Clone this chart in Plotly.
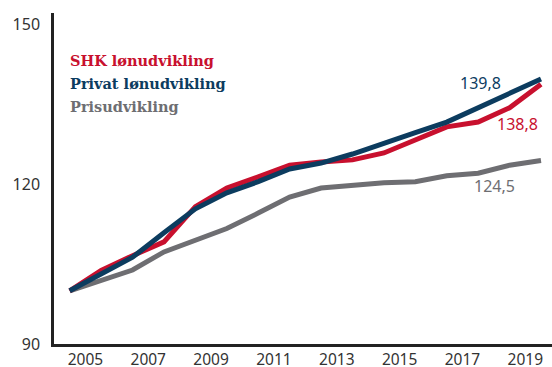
import plotly.graph_objects as go

years = list(range(2004, 2020))
shk = [100, 103.8, 106.6, 109.2, 115.8, 119.3, 121.4, 123.6, 124.2, 124.6, 125.9, 128.3, 130.8, 131.7, 134.4, 138.8]
privat = [100, 103.2, 106.3, 110.9, 115.4, 118.4, 120.5, 122.9, 124.0, 125.7, 127.8, 129.7, 131.7, 134.4, 137.0, 139.8]
pris = [100, 102.0, 103.9, 107.3, 109.4, 111.7, 114.6, 117.6, 119.3, 119.9, 120.3, 120.5, 121.6, 122.1, 123.6, 124.5]
series_names = ["SHK lønudvikling", "Privat lønudvikling", "Prisudvikling"]
tick_years = [2005, 2007, 2009, 2011, 2013, 2015, 2017, 2019]
y_ticks = [90, 120, 150]

RED = "#C8102E"
BLUE = "#0C3C5F"
GRAY = "#6E6E72"

# annual values plotted at mid-year
xmid = [y + 0.5 for y in years]

fig = go.Figure()
fig.add_trace(go.Scatter(x=xmid, y=pris, mode="lines", line=dict(color=GRAY, width=5), name=series_names[2]))
fig.add_trace(go.Scatter(x=xmid, y=shk, mode="lines", line=dict(color=RED, width=5), name=series_names[0]))
fig.add_trace(go.Scatter(x=xmid, y=privat, mode="lines", line=dict(color=BLUE, width=5), name=series_names[1]))

legend_font = "DejaVu Serif"
for i, (name, col) in enumerate(zip(series_names, [RED, BLUE, GRAY])):
    fig.add_annotation(x=2004.45, y=143.2 - i * 4.33, xref="x", yref="y", text="<b>" + name + "</b>",
                       showarrow=False, xanchor="left", yanchor="middle",
                       font=dict(family=legend_font, size=14.5, color=col))

num_font = "Noto Sans"
fig.add_annotation(x=2017.57, y=139.1, text=f"{privat[-1]:.1f}".replace(".", ","),
                   showarrow=False, xanchor="center", yanchor="middle",
                   font=dict(family=num_font, size=16, color=BLUE))
fig.add_annotation(x=2018.76, y=131.35, text=f"{shk[-1]:.1f}".replace(".", ","),
                   showarrow=False, xanchor="center", yanchor="middle",
                   font=dict(family=num_font, size=16, color=RED))
fig.add_annotation(x=2018.01, y=119.7, text=f"{pris[-1]:.1f}".replace(".", ","),
                   showarrow=False, xanchor="center", yanchor="middle",
                   font=dict(family=num_font, size=16, color=GRAY))

fig.update_layout(
    width=552, height=367,
    margin=dict(l=54, r=0, t=13, b=23),
    plot_bgcolor="white", paper_bgcolor="white",
    showlegend=False,
    font=dict(family=num_font, size=16, color="#333333"),
)
fig.update_xaxes(range=[2004, 2019.85], tickvals=tick_years, ticktext=[str(t) for t in tick_years],
                 showgrid=False, zeroline=False, showline=True, linecolor="#222222", linewidth=2.5,
                 ticks="", ticklabelstandoff=0, automargin=False, tickfont=dict(size=15.5, color="#333333"))
fig.update_yaxes(range=[90, 152.2], tickvals=y_ticks, showgrid=False, zeroline=False,
                 showline=True, linecolor="#222222", linewidth=2.5, ticks="", ticklabelstandoff=8,
                 automargin=False, tickfont=dict(size=16, color="#333333"))

fig.write_html("out.html")
